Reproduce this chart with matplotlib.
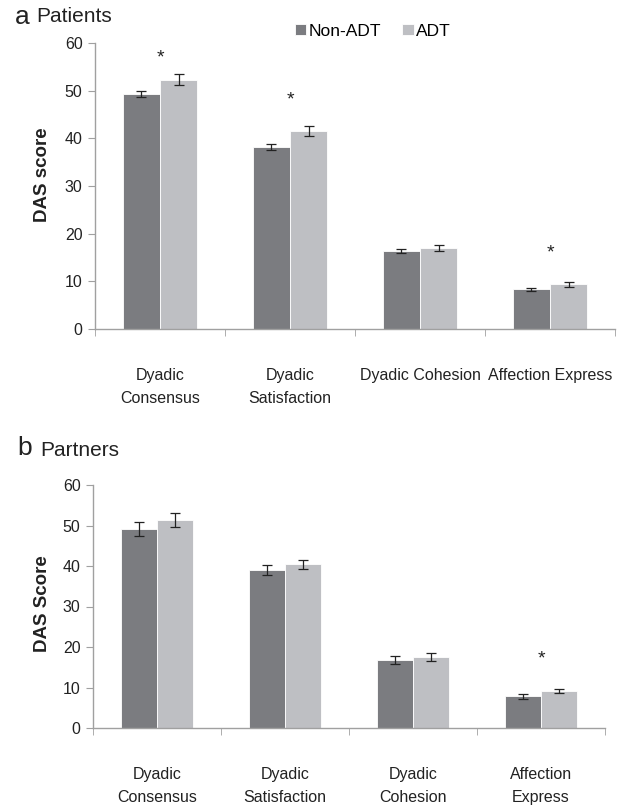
import numpy as np
import matplotlib.pyplot as plt

plt.rcParams['font.family'] = ['Liberation Sans', 'DejaVu Sans']

# panel a - patients
cats_a = ['Dyadic\nConsensus', 'Dyadic\nSatisfaction', 'Dyadic Cohesion', 'Affection Express']
pat_non = [49.3, 38.2, 16.4, 8.3]
pat_non_err = [0.7, 0.6, 0.4, 0.25]
pat_adt = [52.3, 41.5, 17.0, 9.4]
pat_adt_err = [1.2, 1.0, 0.7, 0.5]
pat_star = [56.8, 48.0, None, 16.0]

# panel b - partners
cats_b = ['Dyadic\nConsensus', 'Dyadic\nSatisfaction', 'Dyadic\nCohesion', 'Affection\nExpress']
par_non = [49.1, 39.0, 16.8, 7.8]
par_non_err = [1.7, 1.2, 0.9, 0.6]
par_adt = [51.4, 40.4, 17.5, 9.2]
par_adt_err = [1.7, 1.2, 0.9, 0.5]
par_star = [None, None, None, 17.0]

dark = '#7b7c80'
light = '#bebfc3'
spine_c = '#a0a0a0'
txt_c = '#222222'

fig = plt.figure(figsize=(6.34, 8.07), dpi=100)
ax1 = fig.add_axes([95/634, 1-329/807, 520/634, 286/807])
ax2 = fig.add_axes([93/634, 1-728/807, 512/634, 243/807])

def draw(ax, cats, non, non_err, adt, adt_err, stars, ylab, lab_xy):
    x = np.arange(len(cats)) + 0.5
    w = 0.285
    ekw = dict(ecolor=txt_c, elinewidth=0.9, capsize=3.5, capthick=0.9)
    ax.bar(x - w/2, non, w, color=dark, edgecolor='white', linewidth=0.6,
           yerr=non_err, error_kw=ekw, label='Non-ADT')
    ax.bar(x + w/2, adt, w, color=light, edgecolor='white', linewidth=0.6,
           yerr=adt_err, error_kw=ekw, label='ADT')
    for xi, s in zip(x, stars):
        if s is not None:
            ax.text(xi, s, '*', ha='center', va='center', fontsize=14, color=txt_c)
    ax.set_xlim(0, len(cats))
    ax.set_ylim(0, 60)
    ax.set_yticks(range(0, 61, 10))
    ax.set_xticks(x)
    ax.set_xticklabels(cats, fontsize=11.5, color=txt_c, linespacing=1.65)
    ax.tick_params(axis='x', length=0, pad=28)
    ax.set_xticks(np.arange(len(cats) + 1), minor=True)
    ax.tick_params(axis='x', which='minor', length=5, color=spine_c, direction='out')
    ax.tick_params(axis='y', length=5, color=spine_c, labelsize=11.5, labelcolor=txt_c, pad=4)
    for sp in ['top', 'right']:
        ax.spines[sp].set_visible(False)
    for sp in ['left', 'bottom']:
        ax.spines[sp].set_color(spine_c)
        ax.spines[sp].set_linewidth(1.0)
    ax.set_ylabel(ylab, fontsize=13.5, fontweight='bold', color=txt_c)
    ax.yaxis.set_label_coords(*lab_xy)

draw(ax1, cats_a, pat_non, pat_non_err, pat_adt, pat_adt_err, pat_star, 'DAS score', (-0.085, 0.54))
draw(ax2, cats_b, par_non, par_non_err, par_adt, par_adt_err, par_star, 'DAS Score', (-0.083, 0.51))

fig.text(15/634, 1-17/807, 'a', fontsize=19, va='center', color=txt_c)
fig.text(36/634, 1-17/807, 'Patients', fontsize=15, va='center', color=txt_c)
fig.text(17/634, 1-448/807, 'b', fontsize=19, va='center', color=txt_c)
fig.text(40/634, 1-450/807, 'Partners', fontsize=15, va='center', color=txt_c)

h, l = ax1.get_legend_handles_labels()
fig.legend(h, l, loc='center', bbox_to_anchor=(373/634, 1-31/807), ncol=2, frameon=False,
           fontsize=12.5, handlelength=0.65, handleheight=0.65, handletextpad=0.15,
           columnspacing=1.2, borderaxespad=0)

fig.savefig('out.png', dpi=100)
